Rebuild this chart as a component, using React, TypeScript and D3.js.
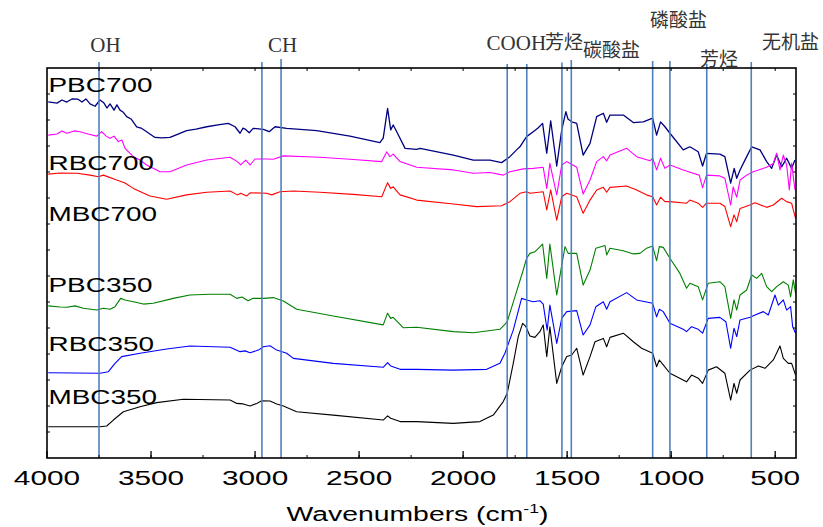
import React from "react";
import * as d3 from "d3";

// FTIR spectra, wavenumber (cm-1) vs offset transmittance (arbitrary units)
const seriesNames = ["PBC700", "RBC700", "MBC700", "PBC350", "RBC350", "MBC350"];
const seriesColors = ["#000080", "#ff00ff", "#ff0000", "#008000", "#0000ff", "#000000"];
const labelLevels = [14.09, 11.08, 9.13, 6.4, 4.13, 2.07];

const PBC700: [number, number][] = [
  [3994, 13.7], [3952, 13.65], [3928, 13.77], [3905, 13.69], [3880, 13.81], [3851, 13.8], [3832, 13.69],
  [3813, 13.81], [3793, 13.62], [3769, 13.53], [3745, 13.77], [3726, 13.65], [3712, 13.46], [3697, 13.62],
  [3678, 13.38], [3664, 13.58], [3649, 13.38], [3635, 13.31], [3617, 13.13], [3596, 13.04], [3569, 12.74],
  [3548, 12.69], [3521, 12.55], [3481, 12.33], [3447, 12.31], [3409, 12.33], [3370, 12.46], [3329, 12.59],
  [3284, 12.65], [3232, 12.74], [3178, 12.81], [3129, 12.87], [3096, 12.74], [3072, 12.49], [3058, 12.69],
  [3048, 12.65], [3028, 12.51], [3009, 12.68], [2960, 12.64], [2932, 12.55], [2904, 12.74], [2848, 12.68],
  [2704, 12.59], [2544, 12.38], [2400, 12.13], [2384, 12.3], [2363, 13.45], [2348, 12.62], [2336, 12.81],
  [2319, 12.55], [2279, 11.91], [2223, 11.87], [2207, 11.91], [2047, 11.65], [1951, 11.46], [1871, 11.46],
  [1815, 11.36], [1775, 11.59], [1743, 11.85], [1727, 11.97], [1695, 12.36], [1663, 12.55], [1640, 12.69],
  [1618, 12.87], [1598, 11.72], [1579, 12.97], [1550, 11.23], [1526, 12.62], [1506, 13.32], [1496, 13.04],
  [1478, 12.93], [1454, 12.87], [1423, 11.65], [1390, 12.1], [1358, 13.13], [1326, 13.26], [1310, 12.91],
  [1294, 13.19], [1230, 13.19], [1182, 12.9], [1134, 12.93], [1089, 13.07], [1070, 12.42], [1051, 12.93],
  [1030, 12.74], [1006, 12.49], [942, 11.85], [910, 11.97], [870, 11.78], [849, 11.23], [830, 11.72],
  [766, 11.69], [742, 11.59], [714, 10.57], [697, 11.14], [685, 10.76], [669, 11.08], [637, 11.59],
  [613, 11.97], [573, 11.85], [541, 11.4], [517, 11.14], [493, 11.65], [469, 11.2], [445, 11.53],
  [421, 11.14], [405, 11.46],
];

const RBC700: [number, number][] = [
  [3994, 12.42], [3952, 12.46], [3928, 12.58], [3905, 12.49], [3870, 12.58], [3841, 12.55], [3803, 12.46],
  [3761, 12.38], [3737, 12.55], [3716, 12.38], [3697, 12.3], [3678, 12.38], [3657, 12.17], [3640, 12.23],
  [3625, 11.91], [3585, 11.59], [3553, 11.46], [3521, 11.27], [3457, 11.01], [3409, 11.01], [3329, 11.27],
  [3232, 11.46], [3120, 11.57], [3085, 11.4], [3069, 11.27], [3045, 11.46], [3024, 11.27], [3000, 11.5],
  [2944, 11.5], [2912, 11.49], [2864, 11.62], [2688, 11.57], [2544, 11.49], [2391, 11.4], [2367, 11.78],
  [2352, 11.59], [2336, 11.69], [2303, 11.4], [2223, 11.18], [2047, 11.08], [1951, 10.95], [1871, 10.98],
  [1807, 10.88], [1775, 11.01], [1711, 11.12], [1663, 11.14], [1615, 11.18], [1598, 10.37], [1583, 11.33],
  [1550, 10.12], [1526, 11.27], [1502, 11.4], [1454, 11.18], [1423, 10.15], [1390, 10.69], [1358, 11.4],
  [1326, 11.59], [1310, 11.43], [1294, 11.65], [1214, 11.91], [1166, 11.59], [1102, 11.43], [1089, 11.53],
  [1070, 11.08], [1051, 11.53], [1030, 11.14], [1006, 11.27], [942, 11.08], [894, 10.95], [865, 10.88],
  [849, 10.4], [830, 10.88], [766, 10.85], [742, 10.76], [714, 9.73], [702, 10.43], [685, 10.03],
  [669, 10.69], [637, 10.88], [606, 11.01], [573, 11.1], [541, 11.18], [509, 11.33], [493, 11.72],
  [477, 11.08], [461, 11.65], [445, 11.27], [432, 10.31], [421, 11.33], [405, 10.31],
];

const MBC700: [number, number][] = [
  [3994, 10.92], [3938, 10.96], [3857, 10.95], [3793, 10.88], [3753, 10.82], [3729, 10.88], [3665, 10.69],
  [3625, 10.58], [3585, 10.37], [3505, 10.08], [3425, 9.95], [3329, 10.12], [3232, 10.22], [3120, 10.27],
  [3085, 10.12], [3069, 10.18], [3040, 10.08], [3024, 10.2], [2944, 10.18], [2920, 10.12], [2880, 10.24],
  [2816, 10.27], [2688, 10.22], [2528, 10.14], [2391, 10.05], [2363, 10.59], [2348, 10.37], [2336, 10.43],
  [2303, 10.12], [2223, 9.92], [2047, 9.77], [1935, 9.67], [1815, 9.7], [1775, 9.86], [1727, 10.18],
  [1695, 10.24], [1679, 10.18], [1615, 10.24], [1598, 9.54], [1579, 10.31], [1550, 9.15], [1526, 10.05],
  [1502, 10.18], [1454, 10.05], [1423, 9.41], [1390, 9.92], [1358, 10.31], [1326, 10.41], [1310, 10.22],
  [1294, 10.41], [1214, 10.46], [1166, 10.31], [1112, 10.1], [1089, 10.05], [1070, 9.73], [1051, 10.03],
  [1030, 9.86], [1006, 9.86], [926, 9.8], [910, 9.92], [870, 9.8], [849, 9.64], [830, 9.8], [766, 9.8],
  [742, 9.67], [714, 8.9], [698, 9.35], [685, 9.09], [669, 9.6], [621, 9.73], [597, 9.82], [541, 9.64],
  [509, 9.73], [469, 9.99], [445, 9.86], [421, 9.8], [413, 9.54], [402, 9.22],
];

const PBC350: [number, number][] = [
  [3994, 5.85], [3938, 5.81], [3905, 5.8], [3865, 5.85], [3826, 5.76], [3761, 5.69], [3729, 5.76],
  [3697, 5.72], [3673, 5.82], [3646, 6.14], [3625, 6.08], [3585, 6.01], [3537, 5.92], [3489, 5.95],
  [3393, 6.14], [3313, 6.27], [3217, 6.3], [3120, 6.3], [3088, 6.14], [3063, 6.19], [3033, 6.05],
  [3009, 6.14], [2960, 6.14], [2912, 6.17], [2864, 6.04], [2800, 5.72], [2624, 5.46], [2384, 5.12],
  [2363, 5.57], [2348, 5.37], [2336, 5.41], [2288, 5.01], [2223, 5.03], [2047, 4.86], [1951, 4.82],
  [1823, 4.95], [1788, 5.24], [1751, 6.2], [1711, 7.23], [1695, 7.68], [1679, 7.87], [1655, 7.93],
  [1618, 8.23], [1598, 6.91], [1583, 8.23], [1550, 6.27], [1526, 7.42], [1510, 8.13], [1495, 7.87],
  [1454, 7.87], [1423, 6.65], [1390, 7.23], [1362, 8.07], [1318, 8.17], [1310, 7.81], [1294, 8.07],
  [1230, 7.97], [1182, 7.85], [1150, 7.87], [1118, 8.07], [1089, 8.15], [1070, 7.59], [1057, 8.13],
  [1038, 8.1], [1006, 7.68], [958, 7.1], [926, 6.53], [910, 6.72], [870, 6.59], [849, 6.08], [822, 6.72],
  [766, 6.78], [742, 6.59], [714, 5.37], [698, 6.08], [685, 5.69], [669, 6.27], [637, 6.46], [613, 7.04],
  [589, 6.91], [565, 7.1], [541, 6.59], [517, 6.4], [493, 6.59], [461, 6.78], [437, 6.65], [426, 6.2],
  [413, 6.85], [402, 6.33],
];

const RBC350: [number, number][] = [
  [3994, 3.28], [3745, 3.26], [3705, 3.32], [3673, 3.64], [3641, 3.9], [3553, 4.03], [3425, 4.19],
  [3313, 4.31], [3120, 4.26], [3072, 4.09], [3048, 4.12], [3024, 4.05], [2984, 4.15], [2960, 4.28],
  [2928, 4.32], [2896, 4.15], [2848, 4.03], [2816, 3.83], [2624, 3.64], [2384, 3.49], [2363, 3.67],
  [2348, 3.54], [2303, 3.41], [2223, 3.41], [2047, 3.38], [1887, 3.41], [1823, 3.64], [1799, 4.03],
  [1759, 4.92], [1719, 6.14], [1695, 6.08], [1663, 6.01], [1631, 6.05], [1615, 5.92], [1596, 4.92],
  [1583, 5.88], [1550, 4.41], [1526, 5.37], [1502, 5.63], [1454, 5.67], [1423, 4.73], [1390, 5.12],
  [1362, 5.82], [1326, 6.01], [1310, 5.72], [1294, 6.01], [1214, 6.36], [1166, 6.08], [1089, 5.95],
  [1070, 5.43], [1057, 5.72], [1038, 5.63], [1006, 5.18], [942, 4.95], [926, 4.86], [902, 5.05],
  [870, 4.95], [849, 4.8], [822, 5.37], [766, 5.41], [737, 5.24], [714, 4.22], [698, 4.99], [685, 4.67],
  [669, 5.31], [621, 5.41], [597, 5.5], [557, 5.63], [533, 5.5], [501, 6.27], [485, 5.88], [461, 6.08],
  [445, 5.69], [426, 5.82], [416, 5.05], [402, 4.8],
];

const MBC350: [number, number][] = [
  [3994, 1.2], [3745, 1.2], [3713, 1.23], [3681, 1.46], [3633, 1.78], [3553, 1.97], [3473, 2.13],
  [3345, 2.26], [3120, 2.23], [3088, 2.1], [3057, 2.08], [3024, 2.0], [2992, 2.1], [2968, 2.2],
  [2928, 2.19], [2896, 2.08], [2864, 2.0], [2800, 1.78], [2624, 1.65], [2384, 1.46], [2363, 1.62],
  [2348, 1.53], [2303, 1.4], [2223, 1.4], [2047, 1.33], [1919, 1.4], [1855, 1.65], [1807, 2.17],
  [1788, 2.49], [1759, 3.64], [1735, 4.67], [1714, 5.18], [1698, 5.05], [1679, 4.69], [1655, 4.64],
  [1631, 4.86], [1615, 5.12], [1598, 3.9], [1583, 5.05], [1550, 2.87], [1526, 3.51], [1502, 3.9],
  [1478, 3.96], [1454, 4.22], [1423, 3.19], [1390, 3.9], [1366, 4.47], [1326, 4.6], [1310, 4.28],
  [1294, 4.64], [1230, 4.8], [1182, 4.47], [1142, 4.22], [1089, 4.03], [1070, 3.51], [1057, 3.77],
  [1038, 3.58], [1006, 3.26], [926, 2.93], [902, 3.19], [870, 3.07], [849, 2.87], [822, 3.38],
  [782, 3.51], [742, 3.26], [714, 2.23], [698, 2.87], [685, 2.49], [669, 3.0], [621, 3.38], [581, 3.54],
  [549, 3.45], [509, 3.77], [477, 4.31], [461, 3.83], [437, 3.64], [421, 3.64], [402, 3.19],
];

const seriesData = [PBC700, RBC700, MBC700, PBC350, RBC350, MBC350];

// assignment marker lines (cm-1)
const markerLines = [3750, 2967, 2875, 1788, 1694, 1525, 1480, 1089, 1006, 829, 615];
const markerOverhang = [6, 6, 9, 4, 4, 5.5, 8, 7, 7, 4, 6];

// band labels: text, left anchor wavenumber, baseline
const bandLabels = ["OH", "CH", "COOH", "芳烃", "碳酸盐", "磷酸盐", "芳烃", "无机盐"];
const bandLabelWn = [3719, 2868, 1887, 1607, 1424, 1102, 862, 564];
const bandLabelBase = [51.5, 51.5, 50, 49, 57, 27, 66, 49];
const bandLabelAnchor = ["middle", "middle", "start", "start", "start", "start", "start", "start"];

const W = 823;
const H = 527;
const margin = { left: 47, right: 27, top: 68, bottom: 69 };

export default function App() {
  const x = d3.scaleLinear().domain([4000, 400]).range([margin.left, W - margin.right]);
  const y = d3.scaleLinear().domain([0, 15]).range([H - margin.bottom, margin.top]);
  const line = d3
    .line<[number, number]>()
    .x((d) => x(d[0]))
    .y((d) => y(d[1]));

  const x0 = margin.left;
  const x1 = W - margin.right;
  const y0 = H - margin.bottom;
  const y1 = margin.top;

  const majorTicks = d3.range(4000, 400, -500);
  const minorTicks = d3.range(3750, 400, -250);
  const yTicks = d3.range(1, 15);

  const sans = "'Liberation Sans', Arial, sans-serif";
  const serif = "'Liberation Serif', 'Noto Sans CJK SC', serif";

  return (
    <svg width={W} height={H} style={{ position: "absolute", left: 0, top: 0, background: "#fff" }}>
      {/* spectra */}
      {seriesData.map((d, i) => (
        <path
          key={seriesNames[i]}
          d={line(d) || ""}
          fill="none"
          stroke={seriesColors[i]}
          strokeWidth={i === 0 ? 1.3 : 1.1}
          strokeLinejoin="round"
        />
      ))}

      {/* marker lines */}
      {markerLines.map((w, i) => (
        <line
          key={"m" + i}
          x1={x(w)}
          x2={x(w)}
          y1={y1 - markerOverhang[i]}
          y2={y0}
          stroke="#4f81bd"
          strokeWidth={1.6}
        />
      ))}

      {/* frame */}
      <rect x={x0} y={y1} width={x1 - x0} height={y0 - y1} fill="none" stroke="#000" strokeWidth={1.6} />

      {/* bottom and top ticks */}
      {majorTicks.map((t) => (
        <line key={"bt" + t} x1={x(t)} x2={x(t)} y1={y0} y2={y0 - 7} stroke="#000" strokeWidth={1.3} />
      ))}
      {minorTicks.map((t) => (
        <g key={"mt" + t}>
          <line x1={x(t)} x2={x(t)} y1={y0} y2={y0 - 3} stroke="#000" strokeWidth={1} />
          <line x1={x(t)} x2={x(t)} y1={y1} y2={y1 + 3} stroke="#000" strokeWidth={1} />
        </g>
      ))}
      {yTicks.map((t) => (
        <g key={"yt" + t}>
          <line x1={x0} x2={x0 + 3} y1={y(t)} y2={y(t)} stroke="#000" strokeWidth={1} />
          <line x1={x1} x2={x1 - 3} y1={y(t)} y2={y(t)} stroke="#000" strokeWidth={1} />
        </g>
      ))}

      {/* tick labels */}
      {majorTicks.map((t) => (
        <text
          key={"tl" + t}
          transform={`translate(${x(t)},${y0 + 26.5}) scale(1.42,1)`}
          textAnchor="middle"
          fontFamily={sans}
          fontSize={21}
          fill="#000"
        >
          {t}
        </text>
      ))}

      {/* axis title */}
      <text
        transform={`translate(${(x0 + x1) / 2 - 4},${H - 6}) scale(1.35,1)`}
        textAnchor="middle"
        fontFamily={sans}
        fontSize={21}
        fill="#000"
      >
        Wavenumbers (cm
        <tspan dy={-8} fontSize={13}>
          -1
        </tspan>
        <tspan dy={8}>)</tspan>
      </text>

      {/* series labels */}
      {seriesNames.map((n, i) => (
        <text
          key={"sl" + n}
          transform={`translate(${x0 + 1.5},${y(labelLevels[i])}) scale(1.33,1)`}
          fontFamily={sans}
          fontSize={21}
          fill="#000"
        >
          {n}
        </text>
      ))}

      {/* band labels */}
      {bandLabels.map((s, i) => (
        <text
          key={"bl" + i}
          x={x(bandLabelWn[i])}
          y={bandLabelBase[i]}
          textAnchor={bandLabelAnchor[i]}
          fontFamily={serif}
          fontSize={/[A-Z]/.test(s) ? 21 : 19}
          fill="#333"
        >
          {s}
        </text>
      ))}
    </svg>
  );
}
